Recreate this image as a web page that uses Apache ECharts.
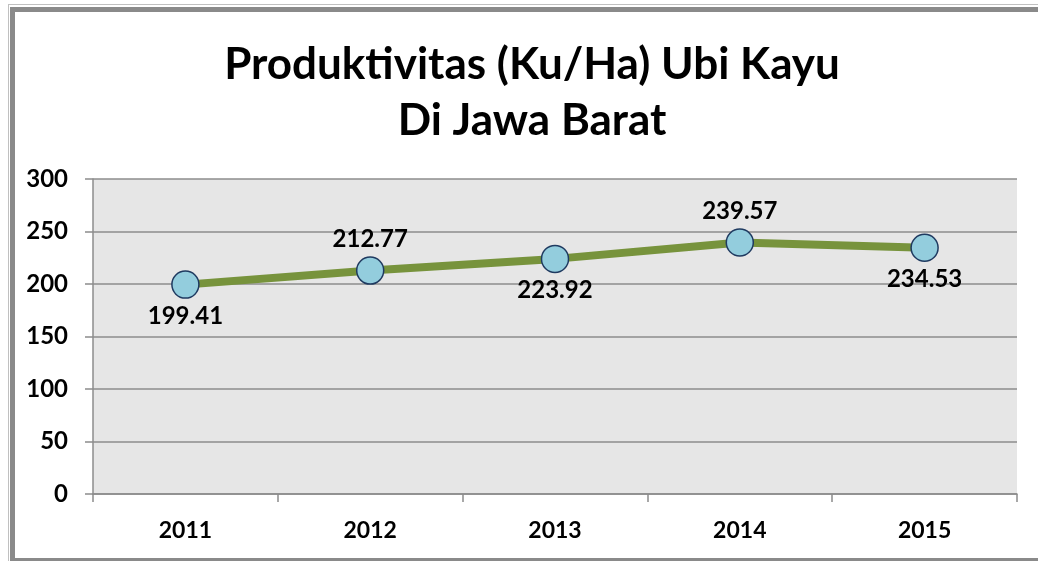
<!DOCTYPE html>
<html>
<head>
<meta charset="utf-8">
<script src="https://cdn.jsdelivr.net/npm/echarts@6/dist/echarts.min.js"></script>
<style>
html,body{margin:0;padding:0;background:#fff;}
#chart{width:1038px;height:561px;}
</style>
</head>
<body>
<div id="chart"></div>
<script>
const titleLines = ['Produktivitas (Ku/Ha) Ubi Kayu', 'Di Jawa Barat'];
const categories = ['2011', '2012', '2013', '2014', '2015'];
const values = [199.41, 212.77, 223.92, 239.57, 234.53];
const labelPositions = ['bottom', 'top', 'bottom', 'top', 'bottom'];
const yMin = 0, yMax = 300, yInterval = 50;

const FONT = 'Lato, "Liberation Sans", sans-serif';
const chart = echarts.init(document.getElementById('chart'));
chart.setOption({
  backgroundColor: '#ffffff',
  animation: false,
  title: {
    text: titleLines.join('\n'),
    left: 527,
    textAlign: 'center',
    top: 32,
    textStyle: { fontFamily: FONT, fontWeight: 'bold', fontSize: 44, lineHeight: 56, color: '#000' }
  },
  grid: { left: 93, right: 21, top: 179, bottom: 67, show: true, backgroundColor: '#e6e6e6', borderWidth: 0 },
  xAxis: {
    type: 'category',
    data: categories,
    boundaryGap: true,
    axisLine: { show: true, lineStyle: { color: '#8c8c8c', width: 1.5 } },
    axisTick: { show: true, alignWithLabel: false, length: 8, lineStyle: { color: '#8c8c8c', width: 1.5 } },
    axisLabel: { margin: 25, fontFamily: FONT, fontWeight: 'bold', fontSize: 23, color: '#000' },
    splitLine: { show: false }
  },
  yAxis: {
    type: 'value',
    min: yMin, max: yMax, interval: yInterval,
    axisLine: { show: true, lineStyle: { color: '#8c8c8c', width: 1.5 } },
    axisTick: { show: true, length: 8, lineStyle: { color: '#8c8c8c', width: 1.5 } },
    axisLabel: { margin: 25, fontFamily: FONT, fontWeight: 'bold', fontSize: 24, color: '#000' },
    splitLine: { show: true, lineStyle: { color: '#8c8c8c', width: 1.5 } }
  },
  series: [{
    type: 'line',
    data: values.map((v, i) => ({
      value: v,
      label: { position: labelPositions[i] }
    })),
    lineStyle: { color: '#77933c', width: 8 },
    symbol: 'circle',
    symbolSize: 27,
    itemStyle: { color: '#93cddd', borderColor: '#1f3a60', borderWidth: 1.5 },
    label: {
      show: true,
      distance: 5,
      fontFamily: FONT, fontWeight: 'bold', fontSize: 24, color: '#000',
      formatter: p => p.value.toFixed(2)
    },
    z: 3
  }],
  graphic: [
    { type: 'rect', shape: { x: 8, y: 4, width: 1100, height: 1 }, style: { fill: '#c0c0c0' }, silent: true },
    { type: 'rect', shape: { x: 8, y: 4, width: 1, height: 600 }, style: { fill: '#c0c0c0' }, silent: true },
    { type: 'rect', shape: { x: 10, y: 7, width: 1100, height: 5 }, style: { fill: '#8a8a8a' }, silent: true },
    { type: 'rect', shape: { x: 10, y: 7, width: 5, height: 600 }, style: { fill: '#8a8a8a' }, silent: true },
    { type: 'rect', shape: { x: 10, y: 558, width: 1100, height: 4 }, style: { fill: '#8a8a8a' }, silent: true }
  ]
});
</script>
</body>
</html>
